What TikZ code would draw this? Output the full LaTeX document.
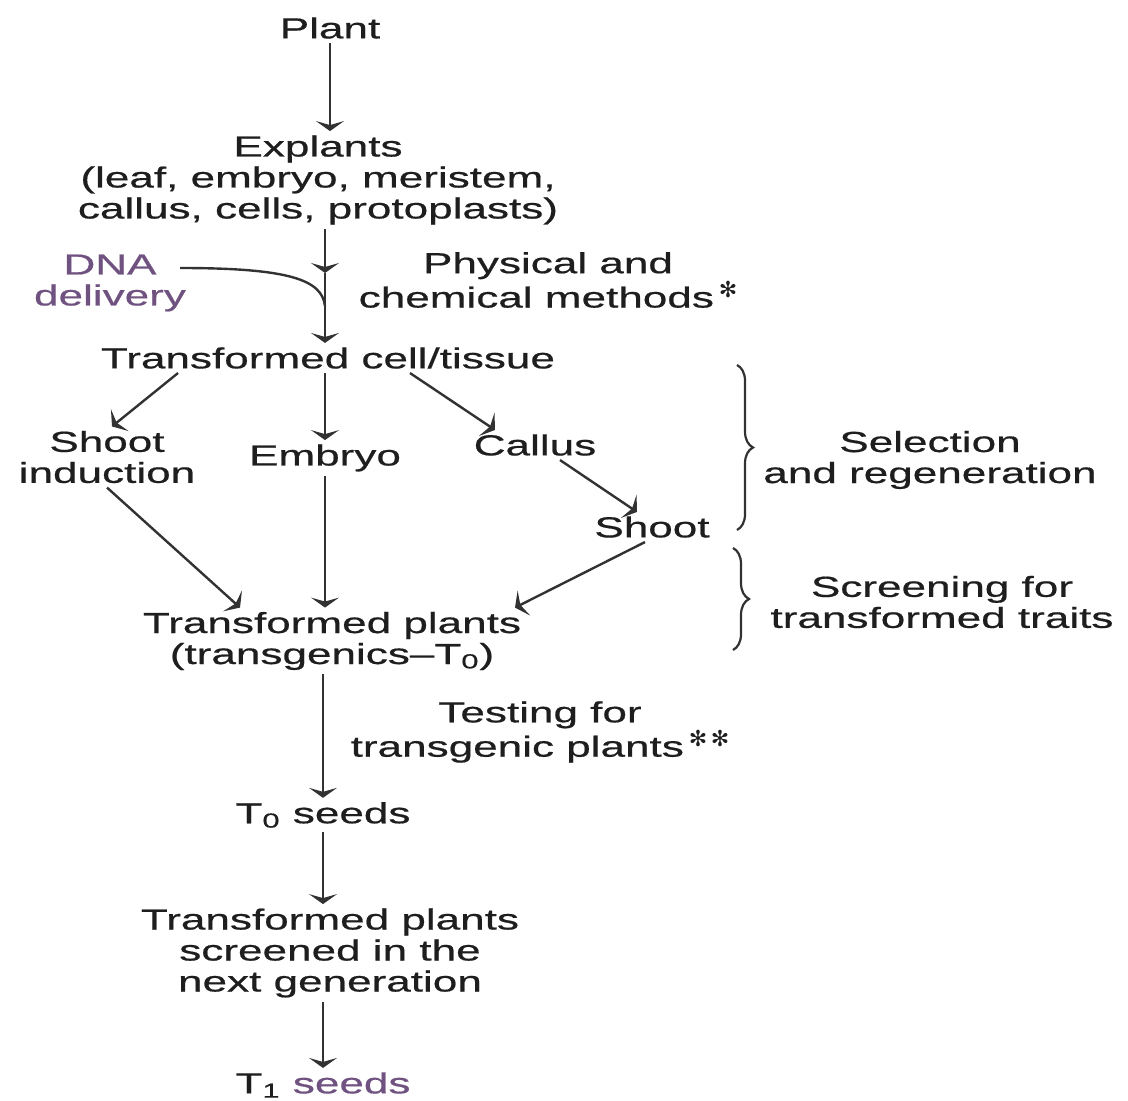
\documentclass[tikz,border=0pt]{standalone}
\usepackage{fontspec}
\setmainfont{Liberation Sans}[FakeStretch=1.52,FakeBold=0.6]
\newfontfamily\starfont{DejaVu Sans}
\usetikzlibrary{arrows.meta,decorations.pathreplacing}
\newlength{\du}
\setlength{\du}{0.5pt}
\definecolor{inkcolor}{RGB}{30,30,30}
\definecolor{flowcolor}{RGB}{50,50,50}
\definecolor{dnacolor}{RGB}{112,82,128}
\tikzset{
  txt/.style={font=\fontsize{14.5}{15.5}\selectfont, text=inkcolor, align=center, inner sep=2pt},
  flow/.style={draw=flowcolor, line width=1.2pt, -{Stealth[width=14pt,length=5pt,inset=2pt]}},
  plainflow/.style={draw=flowcolor, line width=1.2pt},
  groupbrace/.style={draw=flowcolor, line width=1.1pt, decorate, decoration={brace, amplitude=8pt}},
}
\newcommand{\starmark}[1]{\raisebox{5pt}{\starfont\fontsize{11}{11}\selectfont #1}}

\begin{document}
\begin{tikzpicture}
\pgftransformxscale{1.000000}
\pgftransformyscale{-1.000000}
\useasboundingbox (0\du,0\du) rectangle (1128\du,1101\du);
% main column
\node[txt] (plant) at (330\du,28\du){Plant};
\node[txt] (expl) at (318\du,180\du){Explants\\(leaf, embryo, meristem,\\callus, cells, protoplasts)};
\node[txt] (tct) at (328\du,358\du){Transformed cell/tissue};
\node[txt] (shind) at (107\du,457\du){Shoot\\induction};
\node[txt] (embryo) at (325\du,458\du){Embryo};
\node[txt] (callus) at (535\du,445\du){Callus};
\node[txt] (shoot) at (652\du,527\du){Shoot};
\node[txt] (tplants) at (332\du,641\du){Transformed plants\\(transgenics--T\textsubscript{0})};
\node[txt] (tzero) at (323\du,815\du){T\textsubscript{0} seeds};
\node[txt] (screened) at (330\du,953\du){Transformed plants\\screened in the\\next generation};
\node[txt] (tone) at (323\du,1085\du){T\textsubscript{1} {\color{dnacolor}seeds}};
% side notes
\node[txt, text=dnacolor] (dna) at (110\du,283\du){DNA\\delivery};
\node[txt] (phys) at (548\du,280\du){Physical and\\chemical methods\,\starmark{✻}};
\node[txt] (testing) at (540\du,732\du){Testing for\\transgenic plants\,\starmark{✻\,✻}};
\node[txt] (sel) at (930\du,460\du){Selection\\and regeneration};
\node[txt] (scr) at (942\du,602\du){Screening for\\transformed traits};
\coordinate (junc) at (325\du,273\du);
\coordinate (merge) at (325\du,306\du);
\coordinate (dnastart) at (180\du,268\du);
% arrows
\draw[flow] (plant.south) -- (plant.south |- expl.north);
\draw[flow] (junc |- expl.south) -- (junc);
\draw[flow] (junc) -- (junc |- tct.north);
\draw[plainflow] (dnastart) .. controls (290\du,268\du) and (322\du,280\du) .. (merge);
\draw[flow] ([xshift=-150\du]tct.south) -- ([xshift=5\du]shind.north);
\draw[flow] (embryo |- tct.south) -- (embryo.north);
\draw[flow] ([xshift=82\du]tct.south) -- ([xshift=-40\du]callus.north);
\draw[flow] ([xshift=25\du]callus.south) -- ([xshift=-15\du]shoot.north);
\draw[flow] (shind.south) -- ([xshift=-92\du]tplants.north);
\draw[flow] (embryo.south) -- (embryo.south |- tplants.north);
\draw[flow] ([xshift=-7\du]shoot.south) -- ([xshift=183\du]tplants.north);
\draw[flow] (tzero |- tplants.south) -- (tzero.north);
\draw[flow] (tzero.south) -- (tzero.south |- screened.north);
\draw[flow] (tone |- screened.south) -- (tone.north);
% braces
\draw[groupbrace] (737\du,365\du) -- (737\du,530\du);
\draw[groupbrace] (733\du,548\du) -- (733\du,650\du);
\end{tikzpicture}
\end{document}
